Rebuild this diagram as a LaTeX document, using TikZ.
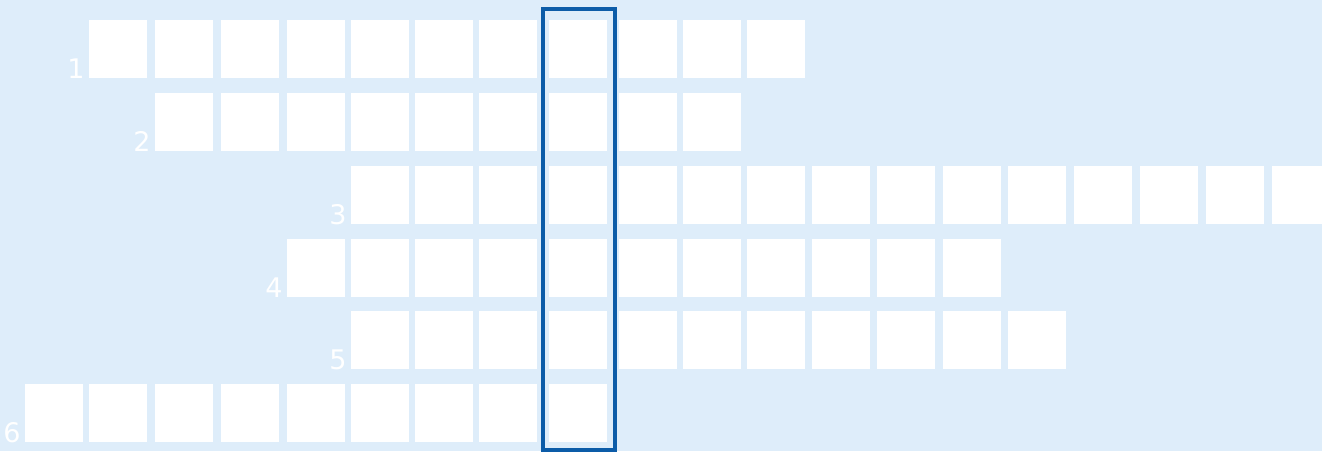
\documentclass[tikz,border=0pt]{standalone}
\usepackage{fontspec}
\setmainfont{DejaVu Sans}
\usetikzlibrary{positioning,calc}
\definecolor{bgblue}{RGB}{222,237,250}
\definecolor{frameblue}{RGB}{12,92,168}
\tikzset{
  cell/.style={fill=white,minimum size=29pt,inner sep=0pt,anchor=north west},
  rownum/.style={text=white,font=\fontsize{13.5}{13.5}\selectfont,inner sep=0pt,anchor=base east},
  colframe/.style={draw=frameblue,line width=2.2pt},
}
\begin{document}
\begin{tikzpicture}[x=0.5pt,y=-0.5pt]
  % background, 1 unit = 1 px
  \fill[bgblue] (0,0) rectangle (1322,451);
  \useasboundingbox (0,0) rectangle (1322,451);
  \def\colx{{25,89,155,221,287,351,415,479,549,619,683,747,812,877,943,1008,1074,1140,1206,1272}}
  % rows of squares: row/top/first column/last column
  \foreach \r/\yy/\lo/\hi in {1/20/1/11, 2/93/2/10, 3/166/5/19, 4/239/4/14, 5/311/5/15, 6/384/0/8}{
    \foreach \c in {\lo,...,\hi}{
      \pgfmathsetmacro{\xx}{\colx[\c]}
      \node[cell] (sq-\r-\c) at (\xx,\yy) {};
    }
    \node[rownum] (num-\r) at ($(sq-\r-\lo.south west)+(-4,0)$) {\r};
  }
  % solution column
  \draw[colframe] ($(sq-1-8.north west)+(-6,-11)$) rectangle ($(sq-6-8.south east)+(7,7)$);
\end{tikzpicture}
\end{document}
